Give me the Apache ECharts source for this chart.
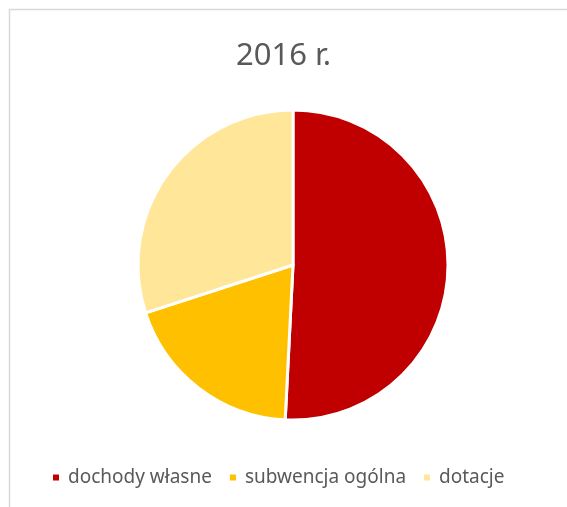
<!DOCTYPE html>
<html lang="pl">
<head>
    <meta charset="UTF-8">
    <title>2016 r.</title>
    <script src="https://cdn.jsdelivr.net/npm/echarts@6/dist/echarts.min.js"></script>
    <style>
        html, body { margin: 0; padding: 0; background: #fff; }
    </style>
</head>
<body>
<div id="pie" style="width: 567px;height: 507px;"></div>
<script>
    // dane (udział w %)
    var categories = ['dochody własne', 'subwencja ogólna', 'dotacje'];
    var values = [50.8, 19.2, 30.0];
    var colors = ['#C00000', '#FFC000', '#FFE699'];

    var myChart = echarts.init(document.getElementById('pie'));
    var option = {
        backgroundColor: '#fff',
        animation: false,
        color: colors,
        title: {
            text: '2016 r.',
            left: 'center',
            top: 36,
            textStyle: {
                fontFamily: 'Noto Sans',
                fontSize: 31,
                fontWeight: 'normal',
                color: '#595959'
            }
        },
        legend: {
            bottom: 15,
            left: 46,
            icon: 'rect',
            itemWidth: 8,
            itemHeight: 8,
            itemGap: 16,
            textStyle: {
                fontFamily: 'Noto Sans',
                fontSize: 19,
                color: '#595959',
                padding: [0, 0, 0, 3]
            },
            data: categories
        },
        // ramka wykresu (góra i lewa krawędź)
        graphic: [{
            type: 'rect',
            silent: true,
            shape: { x: 9.5, y: 9.5, width: 700, height: 700 },
            style: { fill: 'none', stroke: '#d9d9d9', lineWidth: 1.5 }
        }],
        series: [{
            name: '2016 r.',
            type: 'pie',
            center: [293, 265],
            radius: 155,
            startAngle: 90,
            clockwise: true,
            label: { show: false },
            labelLine: { show: false },
            itemStyle: {
                borderColor: '#fff',
                borderWidth: 3
            },
            emphasis: { disabled: true },
            data: categories.map(function (name, i) {
                return { name: name, value: values[i] };
            })
        }]
    };
    myChart.setOption(option);
</script>
</body>
</html>
